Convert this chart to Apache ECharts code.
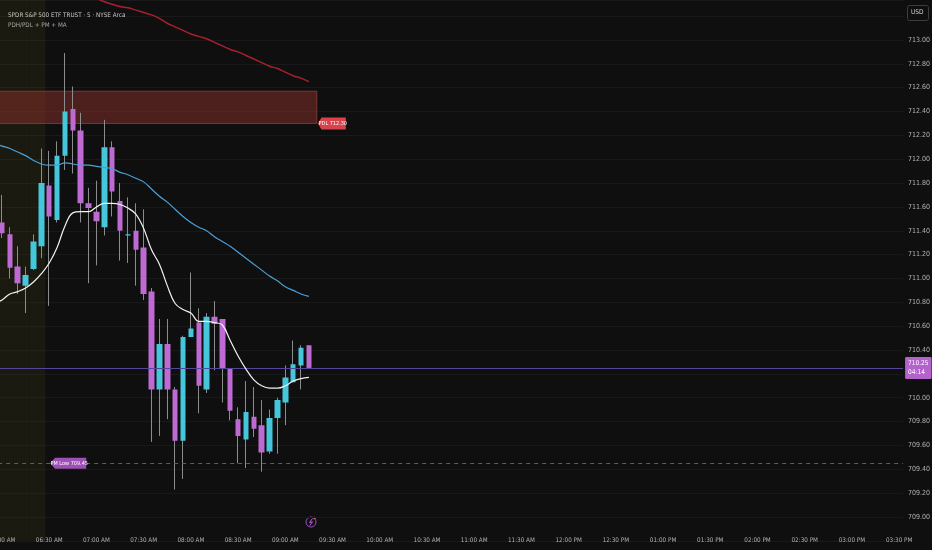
<!DOCTYPE html>
<html>
<head>
<meta charset="utf-8">
<script src="https://cdn.jsdelivr.net/npm/echarts@6/dist/echarts.min.js"></script>
<style>
  html, body { margin: 0; padding: 0; background: #0f0f0f; }
  #chart { width: 932px; height: 550px; }
</style>
</head>
<body>
<div id="chart"></div>
<script>
// 5 分钟K线，06:00 起
const opens  = [711.47, 711.37, 711.10, 710.94, 711.08, 711.27, 711.78, 711.49, 712.03, 712.42, 712.24, 711.63, 711.56, 711.43, 712.10, 711.65, 711.36, 711.40, 711.26, 710.89, 710.07, 710.45, 710.07, 709.64, 710.51, 710.63, 710.07, 710.68, 710.66, 710.24, 709.82, 709.65, 709.84, 709.77, 709.55, 709.83, 709.96, 710.13, 710.27, 710.44]
const closes = [711.38, 711.09, 710.96, 711.03, 711.31, 711.80, 711.52, 712.03, 712.40, 712.24, 711.63, 711.59, 711.48, 712.10, 711.73, 711.40, 711.37, 711.24, 710.87, 710.07, 710.45, 710.07, 709.64, 710.51, 710.58, 710.10, 710.68, 710.62, 710.24, 709.89, 709.68, 709.88, 709.74, 709.54, 709.83, 709.98, 710.17, 710.28, 710.42, 710.25]
const highs  = [711.70, 711.43, 711.27, 711.10, 711.37, 712.09, 712.07, 712.15, 712.89, 712.61, 712.39, 711.76, 711.82, 712.33, 712.15, 711.80, 711.68, 711.63, 711.58, 710.92, 710.66, 710.66, 710.09, 710.52, 711.05, 710.75, 710.71, 710.81, 710.66, 710.24, 709.92, 710.14, 710.09, 709.98, 709.90, 710.00, 710.27, 710.48, 710.44, 710.44]
const lows   = [711.34, 711.00, 710.87, 710.71, 711.07, 711.17, 710.77, 711.47, 711.91, 711.88, 711.47, 710.96, 711.11, 711.36, 711.52, 711.15, 711.13, 710.94, 710.82, 709.63, 709.68, 709.82, 709.23, 709.32, 710.51, 709.87, 710.04, 710.23, 709.96, 709.81, 709.45, 709.41, 709.67, 709.38, 709.53, 709.53, 709.77, 710.13, 710.07, 710.25]

// 均线 (05:55 起)
const maBlue  = [712.13, 712.11, 712.09, 712.06, 712.03, 711.99, 711.96, 711.95, 711.95, 711.97, 711.96, 711.95, 711.95, 711.94, 711.93, 711.92, 711.89, 711.87, 711.84, 711.81, 711.75, 711.69, 711.64, 711.58, 711.52, 711.47, 711.43, 711.40, 711.35, 711.31, 711.27, 711.22, 711.17, 711.12, 711.07, 711.02, 710.98, 710.93, 710.90, 710.87, 710.85]
const maWhite = [710.79, 710.82, 710.87, 710.89, 710.92, 710.97, 711.04, 711.13, 711.26, 711.44, 711.55, 711.56, 711.56, 711.60, 711.63, 711.63, 711.62, 711.59, 711.54, 711.42, 711.24, 711.12, 710.94, 710.79, 710.74, 710.71, 710.64, 710.64, 710.63, 710.61, 710.48, 710.35, 710.24, 710.15, 710.10, 710.08, 710.08, 710.10, 710.14, 710.16, 710.17]
// 红线从 06:50 开始
const maRed = [713.40, 713.38, 713.35, 713.32, 713.30, 713.28, 713.27, 713.25, 713.23, 713.21, 713.18, 713.14, 713.11, 713.08, 713.05, 713.03, 713.01, 712.98, 712.95, 712.92, 712.90, 712.87, 712.84, 712.81, 712.78, 712.76, 712.73, 712.70, 712.68, 712.65]

const pdl = 712.30
const pdlTop = 712.57
const pmLow = 709.45
const lastPrice = 710.25
const countdown = '04:14'
const yTicks = { min: 708.8, max: 713.335, step: 0.2, lastShown: 713.0 }

// 时间类目 05:55 - 15:30
const categories = []
for (let m = 5 * 60 + 55; m <= 15 * 60 + 30; m += 5) {
    const h = Math.floor(m / 60), mm = m % 60
    categories.push(String(h).padStart(2, '0') + ':' + String(mm).padStart(2, '0'))
}
const fmtTime = (c) => {
    let [h, m] = c.split(':').map(Number)
    const ap = h >= 12 ? 'PM' : 'AM'
    if (h > 12) h -= 12
    return String(h).padStart(2, '0') + ':' + String(m).padStart(2, '0') + ' ' + ap
}

const pad = (arr, lead) => {
    const out = new Array(categories.length).fill('-')
    arr.forEach((v, i) => { out[i + lead] = v })
    return out
}
const bodyData = pad(opens.map((o, i) => [o, closes[i], lows[i], highs[i]]), 1)
const wickData = pad(opens.map((o, i) => [lows[i], highs[i], lows[i], highs[i]]), 1)
const preMarket = pad([yTicks.max, yTicks.max, yTicks.max, yTicks.max, yTicks.max, yTicks.max, yTicks.max], 0)

const UP = '#45c6da'
const DOWN = '#bd6ad2'
const WICK = '#8c8c8c'
const FONT = "'Liberation Sans Narrow', 'DejaVu Sans Condensed', Roboto, sans-serif"
const tagPath = 'path://M0,5 L4,0 L30,0 L30,10 L4,10 Z'

const chart = echarts.init(document.getElementById('chart'))
const option = {
    backgroundColor: '#0f0f0f',
    animation: false,
    title: {
        text: 'SPDR S&P 500 ETF TRUST · 5 · NYSE Arca',
        subtext: 'PDH/PDL + PM + MA',
        left: 3, top: 7, itemGap: 4,
        textStyle: { color: '#c9c9c9', fontSize: 6.3, fontWeight: 'normal', fontFamily: FONT },
        subtextStyle: { color: '#a8a8a8', fontSize: 6.3, fontFamily: FONT }
    },
    grid: { left: -9.8, right: 28.9, top: 0, bottom: 9.15, outerBoundsMode: 'none', containLabel: false },
    xAxis: {
        type: 'category',
        data: categories,
        boundaryGap: true,
        axisLine: { show: false },
        axisTick: { show: false },
        splitLine: { show: false },
        axisLabel: {
            color: '#b2b2b2', fontSize: 6.3, fontFamily: FONT, margin: -3,
            interval: (i, v) => Number(v.split(':')[1]) % 30 === 0,
            formatter: fmtTime
        }
    },
    yAxis: {
        type: 'value',
        position: 'right',
        min: yTicks.min, max: yTicks.max, interval: yTicks.step,
        axisLine: { show: false },
        axisTick: { show: false },
        splitLine: { lineStyle: { color: '#191919', width: 1 } },
        axisLabel: {
            color: '#b2b2b2', fontSize: 7, fontFamily: FONT, margin: 5,
            showMinLabel: false, showMaxLabel: false,
            formatter: (v) => v > yTicks.lastShown + 0.01 ? '' : v.toFixed(2)
        }
    },
    series: [
        {
            // 盘前区域
            name: 'premarket', type: 'bar', data: preMarket,
            barWidth: '100%', silent: true, z: 0,
            itemStyle: { color: 'rgba(110,100,20,0.13)' }
        },
        {
            name: 'wick', type: 'candlestick', data: wickData, barWidth: 0.2, z: 2,
            itemStyle: { color: WICK, color0: WICK, borderColor: WICK, borderColor0: WICK, borderWidth: 1 }
        },
        {
            name: 'SPY', type: 'candlestick', data: bodyData, barWidth: 6, z: 3,
            itemStyle: { color: UP, color0: DOWN, borderColor: UP, borderColor0: DOWN, borderWidth: 0 },
            markArea: {
                silent: true,
                itemStyle: { color: 'rgba(170,55,50,0.40)', borderColor: '#7d3834', borderWidth: 1 },
                data: [[{ xAxis: '05:55', yAxis: pdlTop }, { xAxis: '09:20', yAxis: pdl }]]
            },
            markLine: {
                silent: true, symbol: 'none',
                data: [
                    {
                        yAxis: lastPrice,
                        lineStyle: { color: '#54479a', width: 1, type: 'solid' },
                        label: {
                            show: true, position: 'end', distance: 2,
                            formatter: lastPrice.toFixed(2) + '\n' + countdown,
                            backgroundColor: '#b463cc', color: '#fff', fontSize: 6.5, fontFamily: FONT,
                            lineHeight: 9, padding: [2, 3, 2, 3], borderRadius: 1
                        }
                    },
                    {
                        yAxis: pmLow,
                        lineStyle: { color: '#5e5e5e', width: 1, type: [4, 4] },
                        label: { show: false }
                    }
                ]
            },
            markPoint: {
                silent: true,
                data: [
                    {
                        coord: ['09:20', pdl], symbol: tagPath, symbolSize: [28, 12], symbolOffset: [15, 0],
                        itemStyle: { color: '#d8434a' },
                        label: { show: true, formatter: 'PDL ' + pdl.toFixed(2), color: '#fff', fontSize: 5.5, fontFamily: FONT, offset: [1, 0] }
                    },
                    {
                        coord: ['06:30', pmLow], symbol: tagPath, symbolSize: [36, 11], symbolOffset: [19, 0],
                        itemStyle: { color: '#9e50b6' },
                        label: { show: true, formatter: 'PM Low ' + pmLow.toFixed(2), color: '#fff', fontSize: 5.5, fontFamily: FONT, offset: [1, 0] }
                    }
                ]
            }
        },
        {
            name: 'MA red', type: 'line', data: pad(maRed, 11), symbol: 'none', smooth: 0.5, z: 4,
            lineStyle: { color: '#a81f30', width: 1.5 }
        },
        {
            name: 'MA blue', type: 'line', data: maBlue, symbol: 'none', smooth: 0.4, z: 4,
            lineStyle: { color: '#4a9fd6', width: 1.2 }
        },
        {
            name: 'MA white', type: 'line', data: maWhite, symbol: 'none', smooth: 0.4, z: 5,
            lineStyle: { color: '#f2f2f2', width: 1.2 }
        }
    ],
    graphic: [
        {
            type: 'rect', left: 907, top: 5, shape: { width: 21, height: 15, r: 2 },
            style: { fill: '#0f0f0f', stroke: '#3d3d3d', lineWidth: 1 }
        },
        {
            type: 'text', left: 911, top: 9,
            style: { text: 'USD', fill: '#d0d0d0', fontSize: 6.5, fontFamily: FONT }
        },
        {
            type: 'circle', shape: { cx: 311, cy: 522, r: 5 },
            style: { fill: 'none', stroke: '#9b4fc6', lineWidth: 1 }
        },
        {
            type: 'polyline', shape: { points: [[312.5, 518.5], [309.5, 522.5], [312.5, 521.8], [309.8, 525.5]] },
            style: { fill: 'none', stroke: '#b566d8', lineWidth: 1 }
        },
        {
            type: 'circle', shape: { cx: 314.5, cy: 518, r: 1.3 },
            style: { fill: '#e04f86' }
        }
    ]
}
chart.setOption(option)
</script>
</body>
</html>
